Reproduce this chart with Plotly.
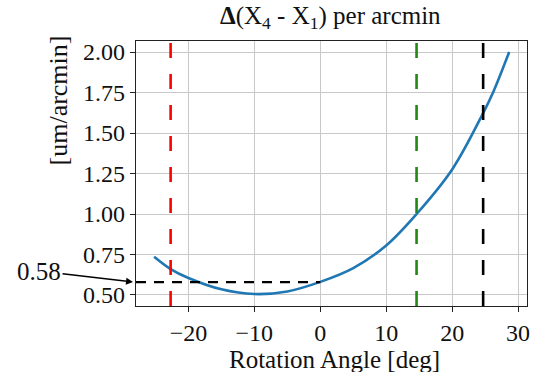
import plotly.graph_objects as go

# Curve data
angle_deg = [-25.2, -22.7, -20.0, -15.0, -10.0, -5.0, 0.0, 5.0, 10.0,
             14.6, 20.0, 24.7, 26.2, 28.65]
delta_per_arcmin = [0.736, 0.66, 0.605, 0.535, 0.506, 0.522, 0.581, 0.666, 0.806,
                    1.0, 1.275, 1.623, 1.75, 2.0]

# Reference markers
red_angle = -22.7
green_angle = 14.6
black_angle = 24.7
ref_value = 0.58
ref_angle_end = 0.0

x_ticks = [-20, -10, 0, 10, 20, 30]
y_ticks = [0.50, 0.75, 1.00, 1.25, 1.50, 1.75, 2.00]
x_range = [-27.95, 31.35]
y_range = [0.432, 2.068]

FONT = "Times New Roman, Liberation Serif, DejaVu Serif, serif"
TXT = "#111111"

fig = go.Figure()

fig.add_trace(go.Scatter(
    x=angle_deg, y=delta_per_arcmin, mode="lines",
    line=dict(color="#1f77b4", width=2.6, shape="spline", smoothing=1.0),
    showlegend=False, hoverinfo="skip"))

# horizontal dashed reference
fig.add_trace(go.Scatter(
    x=[x_range[0], ref_angle_end], y=[ref_value, ref_value], mode="lines",
    line=dict(color="black", width=2.2, dash="10px,8px"),
    showlegend=False, hoverinfo="skip"))

for xv, col in [(red_angle, "#ff0000"), (green_angle, "#1f8a0f"), (black_angle, "black")]:
    fig.add_trace(go.Scatter(
        x=[xv, xv], y=y_range, mode="lines",
        line=dict(color=col, width=2.6, dash="15px,16px"),
        showlegend=False, hoverinfo="skip"))

axis_common = dict(
    showgrid=True, gridcolor="#c8c8c8", gridwidth=1,
    showline=True, linecolor="#222222", linewidth=1.4, mirror=True,
    ticks="outside", ticklen=5, tickwidth=1.2, tickcolor="#222222",
    zeroline=False,
    tickfont=dict(family=FONT, size=24, color=TXT),
)

fig.update_xaxes(range=x_range, tickvals=x_ticks, **axis_common)
fig.update_yaxes(range=y_range, tickvals=y_ticks, tickformat=".2f", **axis_common)

annos = [
    dict(text="<b>Δ</b>(X<sub>4</sub> - X<sub>1</sub>) per arcmin",
         x=0.497, y=1.087, xref="paper", yref="paper", showarrow=False,
         font=dict(family=FONT, size=25, color=TXT), xanchor="center", yanchor="middle"),
    dict(text="[um/arcmin]", x=-0.198, y=0.774, xref="paper", yref="paper", showarrow=False,
         textangle=-90, font=dict(family=FONT, size=26, color=TXT),
         xanchor="center", yanchor="middle"),
    dict(text="Rotation Angle [deg]", x=0.508, y=-0.2, xref="paper", yref="paper",
         showarrow=False, font=dict(family=FONT, size=25, color=TXT),
         xanchor="center", yanchor="middle"),
    dict(text="0.58", x=-0.0076, y=ref_value, xref="paper", yref="y",
         showarrow=True, ax=-94, ay=-11, arrowhead=2, arrowsize=1, arrowwidth=1.4,
         arrowcolor="black", standoff=0,
         font=dict(family=FONT, size=25, color=TXT)),
]

fig.update_layout(
    width=534, height=372,
    margin=dict(l=136, r=4, t=41, b=66),
    paper_bgcolor="white", plot_bgcolor="white",
    annotations=annos,
    showlegend=False,
)

fig.write_html("out.html", config={"displayModeBar": False},
               post_script="document.body.style.margin='0px';")
